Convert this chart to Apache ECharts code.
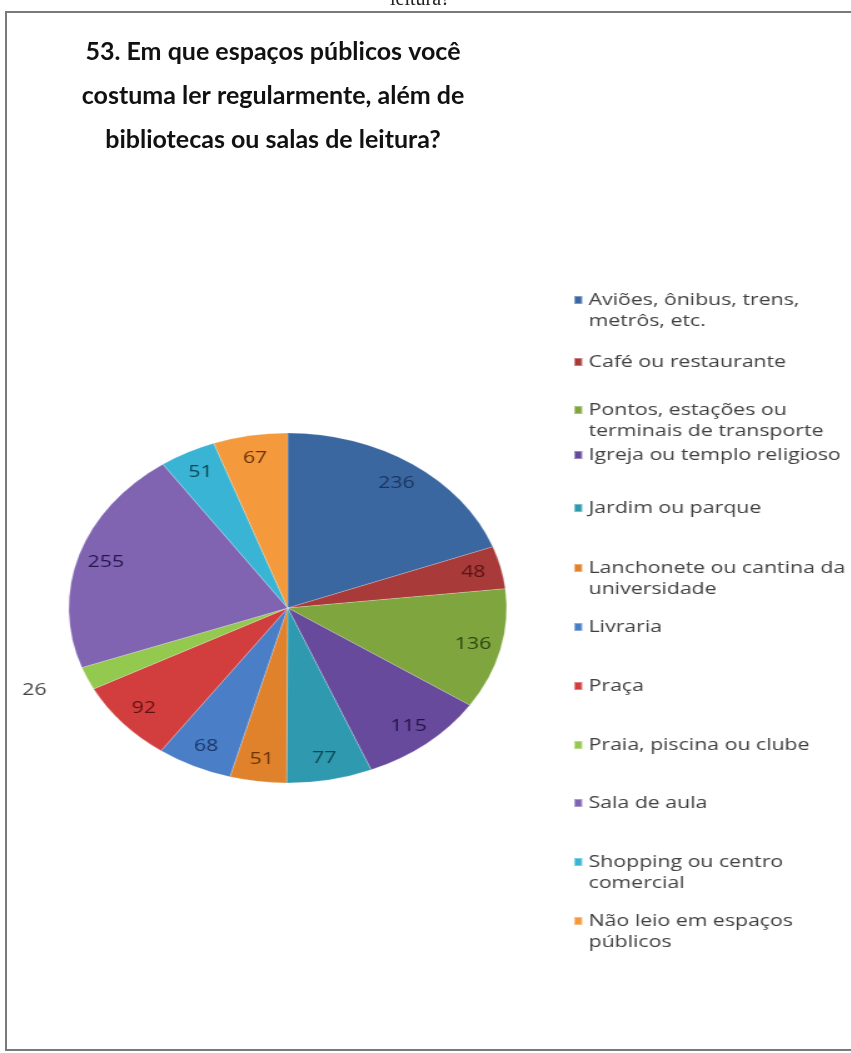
<!DOCTYPE html>
<html>
<head>
<meta charset="utf-8">
<script src="https://cdn.jsdelivr.net/npm/echarts@6/dist/echarts.min.js"></script>
<style>
  html, body { margin: 0; padding: 0; background: #fff; overflow: hidden; }
  #frame { position: absolute; left: 0; top: 0; width: 851px; height: 1053px; }
  /* pie + legend are drawn a bit wider than tall, like the original picture */
  #pie { position: absolute; left: 0; top: 0; width: 680px; height: 1053px; transform: scaleX(1.251); transform-origin: 0 0; }
</style>
</head>
<body>
<div id="frame"></div>
<div id="pie"></div>
<script>
const titleText = '53. Em que espaços públicos você\ncostuma ler regularmente, além de\nbibliotecas ou salas de leitura?';

const categories = [
  'Aviões, ônibus, trens, metrôs, etc.',
  'Café ou restaurante',
  'Pontos, estações ou terminais de transporte',
  'Igreja ou templo religioso',
  'Jardim ou parque',
  'Lanchonete ou cantina da universidade',
  'Livraria',
  'Praça',
  'Praia, piscina ou clube',
  'Sala de aula',
  'Shopping ou centro comercial',
  'Não leio em espaços públicos'
];
const legendText = [
  'Aviões, ônibus, trens,\nmetrôs, etc.',
  'Café ou restaurante',
  'Pontos, estações ou\nterminais de transporte',
  'Igreja ou templo religioso',
  'Jardim ou parque',
  'Lanchonete ou cantina da\nuniversidade',
  'Livraria',
  'Praça',
  'Praia, piscina ou clube',
  'Sala de aula',
  'Shopping ou centro\ncomercial',
  'Não leio em espaços\npúblicos'
];
const values = [236, 48, 136, 115, 77, 51, 68, 92, 26, 255, 51, 67];

const colors = ['#3A67A0', '#A83A3A', '#7FA53E', '#674A9C', '#2F9AAF', '#E0822C',
                '#4A7EC6', '#D23E3E', '#93C94E', '#8064B2', '#3AB4D4', '#F49A3C'];
const labelColors = ['#1c3560', '#561414', '#2c4510', '#24144a', '#0e4652', '#683207',
                     '#1a376c', '#641010', '#444444', '#26164e', '#0c4656', '#683207'];
// icon centre of each legend entry (page px)
const legendY = [300, 362, 410, 455, 508, 568, 627, 686, 745, 803, 862, 921];

// ---- frame + title ----
const frameChart = echarts.init(document.getElementById('frame'));
frameChart.setOption({
  animation: false,
  title: {
    text: titleText,
    left: 268,
    top: 25,
    textAlign: 'center',
    textStyle: { fontFamily: 'Lato', fontWeight: 'bold', fontSize: 25, lineHeight: 44, color: '#111' }
  },
  graphic: [
    { type: 'rect', shape: { x: 6, y: 12, width: 900, height: 1038 }, style: { fill: 'none', stroke: '#7a7a7a', lineWidth: 2 } },
    { type: 'text', x: 420, y: 0, style: { text: 'leitura?', font: '20px "Liberation Serif"', fill: '#222', align: 'center', verticalAlign: 'middle' } }
  ]
});

// ---- pie + legend ----
const L = 21;
const legends = categories.map((c, i) => {
  const twoLines = legendText[i].indexOf('\n') >= 0;
  return {
    data: [c],
    orient: 'vertical',
    left: 458,
    top: legendY[i] - (twoLines ? 1.5 * L : 0.5 * L),
    padding: 0,
    selectedMode: false,
    icon: 'rect',
    itemWidth: 6.5,
    itemHeight: 8,
    // an empty first line keeps the icon level with the first text line
    formatter: () => (twoLines ? '\n' : '') + legendText[i],
    textStyle: { fontFamily: 'Open Sans', fontSize: 17, lineHeight: L, color: '#404040' }
  };
});

const pieChart = echarts.init(document.getElementById('pie'));
pieChart.setOption({
  animation: false,
  color: colors,
  legend: legends,
  series: [
    {
      type: 'pie',
      center: [230, 608],
      radius: [0, 175],
      startAngle: 90,
      clockwise: true,
      silent: true,
      label: { show: false },
      labelLine: { show: false },
      itemStyle: { borderColor: 'rgba(255,255,255,0.35)', borderWidth: 0.6 },
      data: categories.map((c, i) => ({ name: c, value: values[i] }))
    },
    {
      // transparent ring only used to place the value labels near the rim
      type: 'pie',
      center: [230, 608],
      radius: [124, 175],
      startAngle: 90,
      clockwise: true,
      silent: true,
      legendHoverLink: false,
      avoidLabelOverlap: false,
      itemStyle: { color: 'rgba(0,0,0,0)' },
      label: { show: true, position: 'inside', fontFamily: 'Open Sans', fontSize: 17, formatter: '{c}' },
      labelLine: { show: false, length: 30, length2: 0 },
      data: categories.map((c, i) => ({
        name: c,
        value: values[i],
        label: i === 8 ? { position: 'outside', color: labelColors[i] } : { color: labelColors[i] }
      }))
    }
  ]
});
</script>
</body>
</html>
